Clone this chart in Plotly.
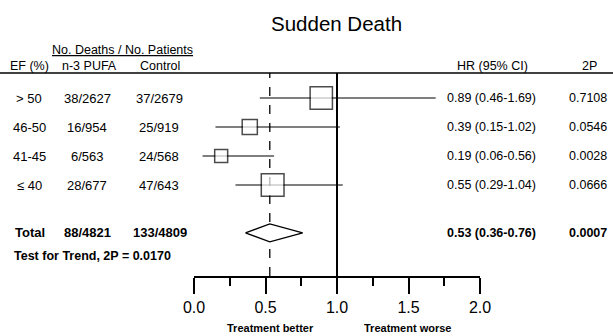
import math
import plotly.graph_objects as go

# ---- data ----
ef_labels = ["> 50", "46-50", "41-45", "≤ 40"]
n3_counts = ["38/2627", "16/954", "6/563", "28/677"]
ctrl_counts = ["37/2679", "25/919", "24/568", "47/643"]
hr = [0.89, 0.39, 0.19, 0.55]
lo = [0.46, 0.15, 0.06, 0.29]
hi = [1.69, 1.02, 0.56, 1.04]
p2 = ["0.7108", "0.0546", "0.0028", "0.0666"]

total_label = "Total"
total_n3 = "88/4821"
total_ctrl = "133/4809"
total_hr = 0.53
total_lo = 0.36
total_hi = 0.76
total_p = "0.0007"
trend_text = "Test for Trend, 2P = 0.0170"

tick_vals = [0.0, 0.5, 1.0, 1.5, 2.0]
tick_text = ["0.0", "0.5", "1.0", "1.5", "2.0"]

# ---- layout constants ----
W, H = 613, 336
L, R, T, B = 194, 480, 73, 276          # plot area in pixels
row_slots = [0, 1, 2, 3]
total_slot = 4.65
trend_slot = 5.45
y_top = (T - 98) / 29.0
y_bot = (B - 98) / 29.0
FONT = "Liberation Sans, Arial, sans-serif"


def px(xp):
    return (xp - L) / (R - L)


def py(yp):
    return (B - yp) / (B - T)


fig = go.Figure()

# confidence interval lines
cx, cy = [], []
for s, a, b in zip(row_slots, lo, hi):
    cx += [a, b, None]
    cy += [s, s, None]
fig.add_trace(go.Scatter(x=cx, y=cy, mode="lines",
                         line=dict(color="black", width=1.2),
                         hoverinfo="skip", showlegend=False))

# squares sized by sqrt of inverse variance
sizes = []
for a, b in zip(lo, hi):
    se = (math.log(b) - math.log(a)) / 3.92
    sizes.append(7.4 * math.sqrt(1.0 / se ** 2))
fig.add_trace(go.Scatter(x=hr, y=row_slots, mode="markers",
                         marker=dict(symbol="square", size=sizes, color="white",
                                     line=dict(color="black", width=1.5)),
                         hoverinfo="skip", showlegend=False))

# pooled diamond
dh = 0.31
fig.add_trace(go.Scatter(x=[total_lo, total_hr, total_hi, total_hr, total_lo],
                         y=[total_slot, total_slot - dh, total_slot, total_slot + dh, total_slot],
                         mode="lines", fill="toself", fillcolor="white",
                         line=dict(color="black", width=1.3),
                         hoverinfo="skip", showlegend=False))

shapes = [
    dict(type="line", xref="x", yref="paper", x0=1.0, x1=1.0, y0=0, y1=1,
         line=dict(color="black", width=2), layer="below"),
    dict(type="line", xref="x", yref="paper", x0=total_hr, x1=total_hr, y0=0, y1=1,
         line=dict(color="black", width=1.3, dash="dash"), layer="below"),
    dict(type="line", xref="paper", yref="paper", x0=px(0), x1=px(W), y0=py(73), y1=py(73),
         line=dict(color="black", width=1.3)),
]

ann = []


def add_text(text, xp, y, yref="y", size=12.5, anchor="center", bold=False):
    if bold:
        text = "<b>" + text + "</b>"
    ann.append(dict(text=text, x=px(xp), xref="paper", y=y, yref=yref,
                    xanchor=anchor, yanchor="middle", showarrow=False,
                    font=dict(family=FONT, size=size, color="black")))


# title and headers
add_text("Sudden Death", 336.5, py(23), yref="paper", size=20.5)
add_text("<u>No. Deaths / No. Patients</u>", 122, py(50), yref="paper", size=12.5)
add_text("EF (%)", 29, py(66), yref="paper", size=12.5)
add_text("n-3 PUFA", 89, py(66), yref="paper", size=12.5)
add_text("Control", 160, py(66), yref="paper", size=12.5)
add_text("HR (95% CI)", 492, py(66), yref="paper", size=12.5)
add_text("2P", 589, py(66), yref="paper", size=12.5)

for s, e, a, c, h, l_, u, p in zip(row_slots, ef_labels, n3_counts, ctrl_counts,
                                   hr, lo, hi, p2):
    add_text(e, 29, s, size=13)
    add_text(a, 87, s, size=13)
    add_text(c, 159, s, size=13)
    add_text(f"{h:.2f} ({l_:.2f}-{u:.2f})", 491, s)
    add_text(p, 588, s)

add_text(total_label, 30, total_slot, size=13, bold=True)
add_text(total_n3, 87, total_slot, size=13, bold=True)
add_text(total_ctrl, 160, total_slot, size=13, bold=True)
add_text(f"{total_hr:.2f} ({total_lo:.2f}-{total_hi:.2f})", 491, total_slot, bold=True)
add_text(total_p, 588, total_slot, bold=True)
add_text(trend_text, 12, trend_slot, size=12.5, anchor="left", bold=True)

add_text("Treatment better", 270, py(328), yref="paper", size=11, bold=True)
add_text("Treatment worse", 407, py(328), yref="paper", size=11, bold=True)

fig.update_layout(
    width=W, height=H,
    margin=dict(l=L, r=W - R, t=T, b=H - B, pad=0),
    paper_bgcolor="white", plot_bgcolor="white",
    shapes=shapes, annotations=ann, showlegend=False,
    xaxis=dict(range=[0, 2], showgrid=False, zeroline=False, showline=True,
               linecolor="black", linewidth=1.5, ticks="outside", ticklen=16,
               tickwidth=1.5, tickcolor="black", tickvals=tick_vals,
               ticktext=tick_text,
               tickfont=dict(family=FONT, size=16, color="black"),
               minor=dict(dtick=0.25, ticks="outside", ticklen=8, tickwidth=1.5,
                          tickcolor="black", showgrid=False),
               fixedrange=True),
    yaxis=dict(range=[y_bot, y_top], visible=False, showgrid=False,
               zeroline=False, fixedrange=True),
)

fig.write_html("out.html", config={"displayModeBar": False})
